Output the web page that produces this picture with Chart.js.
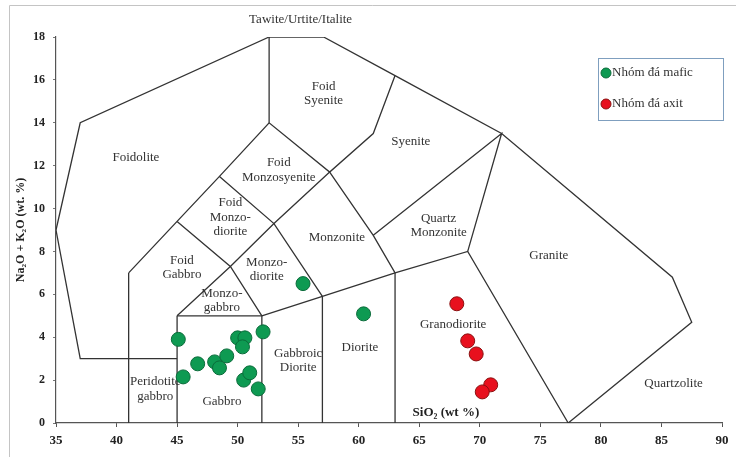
<!DOCTYPE html>
<html>
    <head>
        <title>TAS diagram</title>
        <style>
            body { margin: 0; background: #fff; }
            #wrap { width: 736px; height: 457px; }
        </style>
        <script src="https://cdn.jsdelivr.net/npm/chart.js"></script>
        <script>
            // axis ticks
            const siO2Ticks = [35, 40, 45, 50, 55, 60, 65, 70, 75, 80, 85, 90];
            const alkaliTicks = [0, 2, 4, 6, 8, 10, 12, 14, 16, 18];

            // field boundaries (SiO2, Na2O+K2O)
            const outerLine = [[45,3],[37,3],[35,9],[37,14],[52.6,18],[57.1,18],[63,16.2],[71.8,13.5],[85.9,6.8],[87.5,4.7],[77.3,0]];
            const line41 = [[41,0],[41,7]];
            const line45 = [[45,0],[45,5]];
            const line52 = [[52,0],[52,5]];
            const line57 = [[57,0],[57,5.9]];
            const line63 = [[63,0],[63,7]];
            const gabbroTop = [[45,5],[52,5]];
            const lowerRidge = [[52,5],[57,5.9],[63,7],[69,8],[77.3,0]];
            const foidRidge = [[41,7],[45,9.4],[48.5,11.5],[52.6,14],[57.6,11.7],[61.2,13.5],[63,16.2]];
            const foidGabbroEdge = [[52,5],[49.4,7.3],[45,9.4]];
            const monzoRidge = [[45,5],[49.4,7.3],[53,9.3],[57.6,11.7]];
            const monzoDioriteEdge = [[48.5,11.5],[53,9.3],[57,5.9]];
            const foidSyeniteStem = [[52.6,14],[52.6,18]];
            const monzoniteEdge = [[57.6,11.7],[61.2,8.75],[63,7]];
            const quartzMonzEdge = [[61.2,8.75],[71.8,13.5],[69,8]];

            // samples
            const maficSiO2 = [45.1, 45.5, 46.7, 48.1, 48.5, 49.1, 50.0, 50.6, 50.4, 50.5, 51.0, 51.7, 52.1, 55.4, 60.4];
            const maficAlk  = [3.9, 2.15, 2.76, 2.85, 2.57, 3.13, 3.97, 3.97, 3.55, 2.0, 2.34, 1.59, 4.25, 6.5, 5.09];
            const acidSiO2 = [68.1, 69.0, 69.7, 70.9, 70.2];
            const acidAlk  = [5.56, 3.83, 3.22, 1.78, 1.45];

            const fieldNames = [
                ["Tawite/Urtite/Italite"], ["Foid", "Syenite"], ["Foidolite"], ["Foid", "Monzosyenite"],
                ["Foid", "Monzo-", "diorite"], ["Foid", "Gabbro"], ["Monzo-", "diorite"], ["Monzo-", "gabbro"],
                ["Syenite"], ["Quartz", "Monzonite"], ["Monzonite"], ["Granite"], ["Granodiorite"],
                ["Diorite"], ["Gabbroic", "Diorite"], ["Peridotite", "gabbro"], ["Gabbro"], ["Quartzolite"]
            ];
            const fieldX = [55.2, 57.1, 41.6, 53.4, 49.4, 45.4, 52.4, 48.7, 64.3, 66.6, 58.2, 75.7, 67.8, 60.1, 55.0, 43.2, 48.7, 86.0];
            const fieldY = [18.83, 15.35, 12.4, 11.8, 9.58, 7.24, 7.15, 5.7, 13.1, 9.2, 8.64, 7.8, 4.58, 3.5, 2.9, 1.59, 0.98, 1.82];

            const boundaries = [outerLine, line41, line45, line52, line57, line63, gabbroTop, lowerRidge,
                foidRidge, foidGabbroEdge, monzoRidge, monzoDioriteEdge, foidSyeniteStem, monzoniteEdge, quartzMonzEdge];

            const serif = "'Liberation Serif', 'Times New Roman', serif";

            const textPlugin = {
                id: "tasText",
                beforeDatasetsDraw(chart) {
                    const c = chart.ctx, xs = chart.scales.x, ys = chart.scales.y;
                    c.save();
                    c.fillStyle = "#333";
                    c.font = "13px " + serif;
                    c.textAlign = "center";
                    c.textBaseline = "middle";
                    fieldNames.forEach((lines, i) => {
                        const px = xs.getPixelForValue(fieldX[i]);
                        const py = ys.getPixelForValue(fieldY[i]);
                        const lh = 14.5;
                        lines.forEach((t, k) => c.fillText(t, px, py + (k - (lines.length - 1) / 2) * lh));
                    });
                    c.font = "bold 13px " + serif;
                    c.fillStyle = "#222";
                    c.fillText("SiO\u2082 (wt %)", xs.getPixelForValue(67.2), ys.getPixelForValue(0.47));
                    c.restore();
                },
                afterDraw(chart) {
                    const c = chart.ctx;
                    c.save();
                    // figure frame
                    c.strokeStyle = "#c4c4c4";
                    c.lineWidth = 1;
                    c.beginPath();
                    c.moveTo(9.5, 457);
                    c.lineTo(9.5, 5.5);
                    c.lineTo(736, 5.5);
                    c.stroke();
                    // legend box
                    c.strokeStyle = "#7f9fbf";
                    c.strokeRect(598.5, 58.5, 125, 62);
                    const items = [["Nhóm đá mafic", "#0e9a52", "#0a6b3a", 73], ["Nhóm đá axit", "#e8101e", "#8a1010", 104]];
                    items.forEach(it => {
                        c.beginPath();
                        c.arc(606, it[3], 5, 0, Math.PI * 2);
                        c.fillStyle = it[1];
                        c.fill();
                        c.strokeStyle = it[2];
                        c.stroke();
                        c.fillStyle = "#333";
                        c.font = "13px " + serif;
                        c.textAlign = "left";
                        c.textBaseline = "middle";
                        c.fillText(it[0], 612, it[3]);
                    });
                    c.restore();
                }
            };

            function init() {
                const datasets = [];
                datasets.push({
                    label: "Nhóm đá mafic",
                    data: maficSiO2.map((x, i) => ({x: x, y: maficAlk[i]})),
                    pointRadius: 7, pointBackgroundColor: "#0e9a52", pointBorderColor: "#0a6b3a",
                    pointBorderWidth: 1, showLine: false, order: 0
                });
                datasets.push({
                    label: "Nhóm đá axit",
                    data: acidSiO2.map((x, i) => ({x: x, y: acidAlk[i]})),
                    pointRadius: 7, pointBackgroundColor: "#e8101e", pointBorderColor: "#8a1010",
                    pointBorderWidth: 1, showLine: false, order: 0
                });
                boundaries.forEach(b => datasets.push({
                    data: b.map(p => ({x: p[0], y: p[1]})),
                    showLine: true, pointRadius: 0, borderColor: "#333", borderWidth: 1.3,
                    fill: false, tension: 0, order: 1
                }));

                new Chart(document.getElementById("tas"), {
                    type: "scatter",
                    data: { datasets: datasets },
                    options: {
                        responsive: false,
                        animation: false,
                        layout: { padding: { left: 0, right: 14, top: 37, bottom: 0 } },
                        plugins: { legend: { display: false }, tooltip: { enabled: false } },
                        scales: {
                            x: {
                                type: "linear", min: 35, max: 90,
                                afterFit: s => { s.height = 34; },
                                afterBuildTicks: s => { s.ticks = siO2Ticks.map(v => ({value: v})); },
                                grid: { drawOnChartArea: false, drawTicks: true, tickLength: 4, color: "#555" },
                                border: { display: true, color: "#555", width: 1.2 },
                                ticks: { color: "#222", padding: 6, maxRotation: 0, font: { family: serif, size: 13, weight: "bold" } },
                            },
                            y: {
                                type: "linear", min: 0, max: 18,
                                afterFit: s => { s.width = 56; },
                                afterBuildTicks: s => { s.ticks = alkaliTicks.map(v => ({value: v})); },
                                grid: { drawOnChartArea: false, drawTicks: true, tickLength: 3, color: "#777" },
                                border: { display: true, color: "#555", width: 1.2 },
                                ticks: { color: "#222", padding: 8, font: { family: serif, size: 12, weight: "bold" } },
                                title: {
                                    display: true, text: "Na\u2082O + K\u2082O (wt. %)", color: "#222",
                                    padding: { top: 14, bottom: 0 },
                                    font: { family: serif, size: 12, weight: "bold" }
                                }
                            }
                        }
                    },
                    plugins: [textPlugin]
                });
            }
        </script>
    </head>
    <body onload="init();">
        <div id="wrap">
            <canvas id="tas" width="736" height="457"></canvas>
        </div>
    </body>
</html>
